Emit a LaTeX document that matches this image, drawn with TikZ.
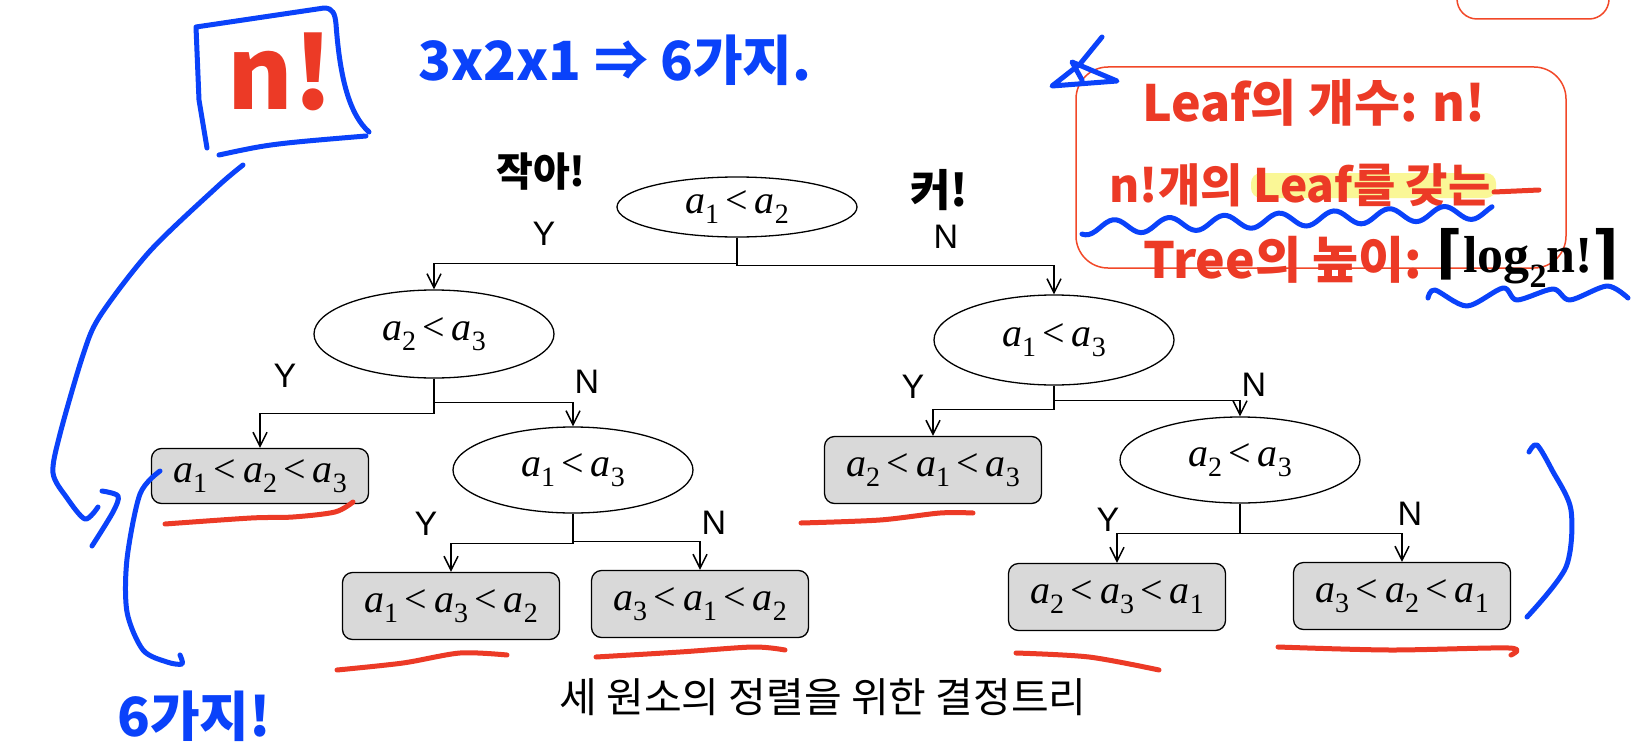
\documentclass[tikz,border=0pt]{standalone}
\usepackage{fontspec}
\usetikzlibrary{arrows.meta,positioning,shapes.geometric}
\setmainfont{Liberation Serif}
\newfontfamily\ynfont{Liberation Sans}
\newfontfamily\krfont{Noto Sans CJK KR}
\newfontfamily\symfont{DejaVu Sans}
\definecolor{penblue}{RGB}{10,66,250}
\definecolor{penred}{RGB}{236,58,38}
\definecolor{boxred}{RGB}{242,72,40}
\definecolor{leafgray}{RGB}{217,217,217}
\definecolor{hilite}{RGB}{250,247,150}
\newcommand\av[1]{\textit{a}\raisebox{-0.26em}{\fontsize{28}{28}\selectfont#1}}
\newcommand\lt{\,<\,}

\begin{document}
\begin{tikzpicture}[
  x=1pt, y=-1pt,
  cmp/.style={ellipse, draw, line width=1.3pt, minimum width=240pt,
    minimum height=88pt, inner sep=0pt, font=\fontsize{40}{44}\selectfont},
  leaf/.style={draw, rounded corners=10pt, line width=1.3pt, fill=leafgray,
    minimum width=217pt, minimum height=67pt, inner sep=0pt,
    font=\fontsize{40}{44}\selectfont},
  yn/.style={font=\ynfont\fontsize{34}{38}\selectfont, inner sep=0pt},
  arr/.style={-{Straight Barb[length=14pt,width=14pt]}, line width=1.5pt},
  pen/.style={line width=5pt, line cap=round, line join=round},
  hand/.style={font=\krfont\bfseries\fontsize{#1}{#1}\selectfont, inner sep=0pt}
]
\useasboundingbox (0,0) rectangle (1632,752);
\fill[white] (0,0) rectangle (1632,752);

% decision tree
\node[cmp, minimum height=60pt] (r) at (737,207) {\av1\lt\av2};
\node[cmp] (e1) at (434,334) {\av2\lt\av3};
\node[cmp, minimum height=90pt] (e3) at (1054,340) {\av1\lt\av3};
\node[cmp, minimum height=86pt] (e2) at (573,470) {\av1\lt\av3};
\node[cmp, minimum height=86pt] (e4) at (1240,460) {\av2\lt\av3};
\node[leaf, minimum height=55pt] (l1) at (260,476) {\av1\lt\av2\lt\av3};
\node[leaf] (l2) at (451,606) {\av1\lt\av3\lt\av2};
\node[leaf] (l3) at (700,604) {\av3\lt\av1\lt\av2};
\node[leaf] (l4) at (933,470) {\av2\lt\av1\lt\av3};
\node[leaf] (l5) at (1117,597) {\av2\lt\av3\lt\av1};
\node[leaf] (l6) at (1402,596) {\av3\lt\av2\lt\av1};

\draw[arr] (r.south) -- ++(0,26) -| (e1.north);
\draw[arr] (r.south) -- ++(0,28) -| (e3.north);
\draw[arr] (e1.south) -- ++(0,35) -| (l1.north);
\draw[arr] (e1.south) -- ++(0,24) -| (e2.north);
\draw[arr] (e2.south) -- ++(0,30) -| (l2.north);
\draw[arr] (e2.south) -- ++(0,28) -| (l3.north);
\draw[arr] (e3.south) -- ++(0,24) -| (l4.north);
\draw[arr] (e3.south) -- ++(0,15) -| (e4.north);
\draw[arr] (e4.south) -- ++(0,30) -| (l5.north);
\draw[arr] (e4.south) -- ++(0,30) -| (l6.north);

\node[yn] (ry)  at (544,234) {Y};
\node[yn] (rn)  at (946,237) {N};
\node[yn] (e1y) at (285,376) {Y};
\node[yn] (e1n) at (587,382) {N};
\node[yn] (e2y) at (426,524) {Y};
\node[yn] (e2n) at (714,523) {N};
\node[yn] (e3y) at (913,387) {Y};
\node[yn] (e3n) at (1254,385) {N};
\node[yn] (e4y) at (1108,520) {Y};
\node[yn] (e4n) at (1410,514) {N};

\node[font=\krfont\fontsize{41}{46}\selectfont] (cap) at (823,697)
  {세 원소의 정렬을 위한 결정트리};

% handwritten notes
\draw[pen, penblue] (207,148) -- (199,100) -- (196,27) -- (324,8)
  .. controls (333,8) and (335,14) .. (336,24)
  .. controls (340,80) and (350,115) .. (369,132);
\draw[pen, penblue] (219,155) .. controls (270,144) .. (366,136);
\node[hand=100, penred] (nfact) at (280,72) {n!};
\node[hand=54, penblue] (perm) at (615,60) {3x2x1 ⇒ 6가지.};
\node[hand=40] (small) at (541,172) {작아!};
\node[hand=44] (big) at (939,190) {커!};
\node[hand=54, penblue] (six) at (194,716) {6가지!};

\draw[pen, penblue] plot[smooth] coordinates {(243,165) (217,187) (150,251)
  (100,316) (83,355) (60,434) (53,473) (67,498) (85,519) (98,507)};
\draw[pen, penblue] plot[smooth] coordinates {(102,491) (118,496) (113,512) (92,546)};
\draw[pen, penblue] plot[smooth] coordinates {(160,471) (140,494) (127,559)
  (127,612) (143,650) (167,662) (182,664) (180,655)};
\draw[pen, penblue] plot[smooth] coordinates {(1529,452) (1537,445) (1552,470)
  (1571,510) (1566,567) (1527,617)};

\draw[pen, penred] plot[smooth] coordinates {(165,524) (251,518) (293,517) (335,512) (353,502)};
\draw[pen, penred] plot[smooth] coordinates {(337,670) (403,663) (460,653) (507,655)};
\draw[pen, penred] plot[smooth] coordinates {(596,657) (680,652) (753,647) (785,650)};
\draw[pen, penred] plot[smooth] coordinates {(801,523) (880,520) (940,513) (973,513)};
\draw[pen, penred] plot[smooth] coordinates {(1016,653) (1089,657) (1159,670)};
\draw[pen, penred] plot[smooth] coordinates {(1278,647) (1390,650) (1509,648) (1511,655)};

\draw[boxred, line width=1.5pt, rounded corners=20pt] (1457,-30) rectangle (1609,19);
\draw[boxred, line width=1.5pt, rounded corners=32pt] (1076,67) rectangle (1566,268);
\draw[pen, penblue] (1102,37) -- (1080,64) -- (1052,86) -- (1117,81) -- (1072,62) -- (1082,80);

\fill[hilite, rounded corners=10pt] (1251,173) rectangle (1496,198);
\node[hand=50, penred] (leafcnt) at (1314,103) {Leaf의 개수: n!};
\node[hand=46, penred] (leafhave) at (1300,185) {n!개의 Leaf를 갖는};
\draw[pen, penred] (1494,192) -- (1539,190);
\draw[pen, penblue] plot[domain=0:410, samples=120, smooth]
  ({1082+\x}, {228-0.04*\x+7*sin(\x/55*360+60)});
\node[hand=50, penred] (treeh) at (1283,260) {Tree의 높이:};
\node[font=\bfseries\fontsize{52}{52}\selectfont, inner sep=0pt] (logn) at (1528,258)
  {{\symfont\fontsize{58}{58}\selectfont ⌈}log\raisebox{-0.3em}{\fontsize{34}{34}\selectfont 2}n!{\symfont\fontsize{58}{58}\selectfont ⌉}};
\draw[pen, penblue] plot[smooth] coordinates {(1428,298) (1435,290) (1467,306)
  (1503,288) (1517,300) (1553,289) (1570,300) (1607,286) (1628,298)};
\end{tikzpicture}
\end{document}
